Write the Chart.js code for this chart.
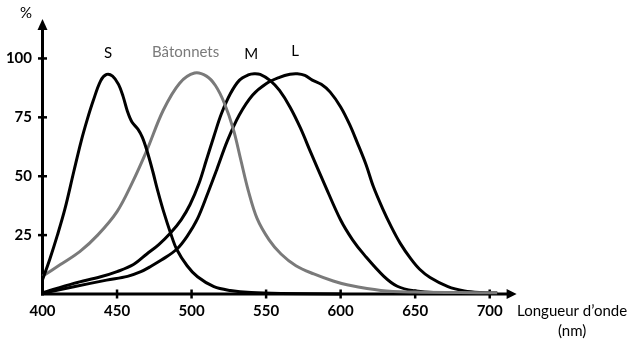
<!DOCTYPE html>
<html>
<head>
<meta charset="utf-8">
<script src="https://cdn.jsdelivr.net/npm/chart.js@4/dist/chart.umd.min.js"></script>
<style>
  html, body { margin: 0; padding: 0; background: #fff; }
  #wrap { width: 634px; height: 339px; }
</style>
</head>
<body>
<div id="wrap"><canvas id="c" width="634" height="339"></canvas></div>
<script>
// Axis ticks
const wavelengthTicks = [400, 450, 500, 550, 600, 650, 700];
const percentTicks = [25, 50, 75, 100];

// S cones (short wavelengths)
const sNm  = [400, 405, 410, 415, 421, 426, 430, 434, 439, 443, 447, 451, 454, 457, 460, 464, 467, 470, 474, 477, 481, 486, 490, 497, 504, 515, 526, 540, 560, 600];
const sPct = [6, 15, 25, 36, 52, 65, 74, 82, 90.5, 93.2, 92.5, 89, 84, 77.5, 73, 70, 66.5, 61, 52, 44.5, 35.5, 25.7, 19, 12, 7.3, 3.1, 1.5, 0.6, 0.2, 0];

// Rods (bâtonnets)
const rodNm  = [400, 412, 425, 437, 450, 460, 470, 481, 492, 502, 510, 516, 522, 528, 533, 538, 544, 552, 560, 570, 582, 595, 605, 627, 650, 680, 705];
const rodPct = [7.5, 12.5, 18, 25, 35, 47, 61, 78, 89.5, 93.8, 92.5, 88.5, 81, 70, 57, 44, 32, 23, 17, 12, 8.5, 5.5, 3.8, 1.5, 0.8, 0.6, 0.5];

// M cones (medium wavelengths)
const mNm  = [400, 421, 439, 450, 461, 470, 478, 486, 493, 499, 505, 510, 515, 520, 526, 532, 538, 542, 546, 553, 559, 566, 573, 580, 589, 600, 608, 616, 629, 638, 649, 665, 705];
const mPct = [0.5, 4.5, 7.3, 9.5, 12.5, 17, 21, 26, 31.5, 38, 47, 57, 67, 76.5, 85, 90.7, 93, 93.5, 93.2, 90.5, 86.4, 79.4, 70.5, 60, 46.9, 31.4, 23, 16.5, 7.5, 3.3, 1.4, 0.5, 0.3];

// L cones (long wavelengths)
const lNm  = [400, 421, 443, 457, 466, 472, 480, 490, 497, 504, 511, 517, 524, 532, 541, 550, 559, 566, 571, 576, 581, 587, 593, 600, 606, 611, 617, 622, 628, 634, 640, 647, 653, 660, 672, 683, 694, 705];
const lPct = [0.3, 3.1, 5.9, 7.5, 9.5, 11.5, 14.5, 19, 24.5, 32, 43, 53, 65, 76, 84.5, 89.3, 92, 93.3, 93.5, 92.8, 90.8, 89, 85.7, 79.4, 72, 64.5, 55, 45.5, 36.5, 28.5, 21.5, 15, 10.5, 7, 3.1, 1.3, 0.6, 0.4];

const seriesNames = ['S', 'Bâtonnets', 'M', 'L'];

const toPoints = (xs, ys) => xs.map((v, i) => ({ x: v, y: ys[i] }));

const BLACK = '#000000';
const GREY = '#7a7a7a';
const FONT = 'Lato, "Open Sans", sans-serif';

function curve(name, xs, ys, color) {
  return {
    label: name,
    data: toPoints(xs, ys),
    borderColor: color,
    borderWidth: 3,
    pointRadius: 0,
    tension: 0.35,
    fill: false,
    clip: false
  };
}

// Curve names written above the peaks (anchored in data units)
const nameAnchors = [
  { text: seriesNames[0], nm: 444,   pct: 100,   color: BLACK },
  { text: seriesNames[1], nm: 496,   pct: 100.8, color: GREY },
  { text: seriesNames[2], nm: 540,   pct: 99.7,  color: BLACK },
  { text: seriesNames[3], nm: 569.5, pct: 101.1, color: BLACK }
];

const axesPlugin = {
  id: 'axesArrows',
  beforeDatasetsDraw(chart) {
    const { ctx, chartArea: a, scales: { x, y } } = chart;
    const x0 = x.getPixelForValue(400);
    const y0 = y.getPixelForValue(0);
    ctx.save();
    ctx.strokeStyle = BLACK;
    ctx.fillStyle = BLACK;
    ctx.lineWidth = 3;
    // horizontal axis + arrow
    ctx.beginPath();
    ctx.moveTo(x0 - 1.5, y0);
    ctx.lineTo(a.right, y0);
    ctx.stroke();
    ctx.beginPath();
    ctx.moveTo(a.right + 9, y0);
    ctx.lineTo(a.right - 1, y0 - 5);
    ctx.lineTo(a.right - 1, y0 + 5);
    ctx.closePath();
    ctx.fill();
    // vertical axis + arrow
    ctx.beginPath();
    ctx.moveTo(x0, y0 + 1.5);
    ctx.lineTo(x0, a.top);
    ctx.stroke();
    ctx.beginPath();
    ctx.moveTo(x0, a.top - 10);
    ctx.lineTo(x0 - 5, a.top + 1);
    ctx.lineTo(x0 + 5, a.top + 1);
    ctx.closePath();
    ctx.fill();
    // tick marks crossing the axes
    ctx.lineWidth = 2.5;
    x.ticks.forEach(t => {
      if (t.value === 400) return;
      const px = x.getPixelForValue(t.value);
      ctx.beginPath();
      ctx.moveTo(px, y0 - 4.5);
      ctx.lineTo(px, y0 + 4.5);
      ctx.stroke();
    });
    y.ticks.forEach(t => {
      const py = y.getPixelForValue(t.value);
      ctx.beginPath();
      ctx.moveTo(x0 - 4.5, py);
      ctx.lineTo(x0 + 4.5, py);
      ctx.stroke();
    });
    ctx.restore();
  },
  afterDraw(chart) {
    const { ctx, chartArea: a, scales: { x, y } } = chart;
    ctx.save();
    ctx.font = '15px ' + FONT;
    ctx.textBaseline = 'alphabetic';
    ctx.textAlign = 'center';
    nameAnchors.forEach(n => {
      ctx.fillStyle = n.color;
      ctx.fillText(n.text, x.getPixelForValue(n.nm), y.getPixelForValue(n.pct));
    });
    ctx.fillStyle = BLACK;
    // axis titles
    ctx.fillText('%', x.getPixelForValue(400) - 16.5, 18.3);
    const y0 = y.getPixelForValue(0);
    ctx.fillText('Longueur d\u2019onde', a.right + 64.5, y0 + 22);
    ctx.fillText('(nm)', a.right + 64.5, y0 + 41.5);
    ctx.restore();
  }
};

new Chart(document.getElementById('c'), {
  type: 'line',
  data: {
    datasets: [
      curve(seriesNames[0], sNm, sPct, BLACK),
      curve(seriesNames[1], rodNm, rodPct, GREY),
      curve(seriesNames[2], mNm, mPct, BLACK),
      curve(seriesNames[3], lNm, lPct, BLACK)
    ]
  },
  options: {
    responsive: false,
    animation: false,
    devicePixelRatio: 1,
    layout: { padding: { top: 29, right: 126.4, left: 0, bottom: 0 } },
    plugins: { legend: { display: false }, tooltip: { enabled: false } },
    scales: {
      x: {
        type: 'linear',
        min: 400,
        max: 712,
        afterFit(scale) { scale.height = 45; },
        afterBuildTicks(scale) { scale.ticks = wavelengthTicks.map(v => ({ value: v })); },
        grid: { display: false, drawTicks: false, tickLength: 0 },
        border: { display: false },
        ticks: {
          autoSkip: false,
          maxRotation: 0,
          padding: 8,
          color: BLACK,
          font: { family: FONT, size: 15, weight: 'bold' }
        }
      },
      y: {
        type: 'linear',
        min: 0,
        max: 112.5,
        afterFit(scale) { scale.width = 42.5; },
        afterBuildTicks(scale) { scale.ticks = percentTicks.map(v => ({ value: v })); },
        grid: { display: false, drawTicks: false, tickLength: 0 },
        border: { display: false },
        ticks: {
          padding: 10.5,
          color: BLACK,
          font: { family: FONT, size: 15, weight: 'bold' }
        }
      }
    }
  },
  plugins: [axesPlugin]
});
</script>
</body>
</html>
